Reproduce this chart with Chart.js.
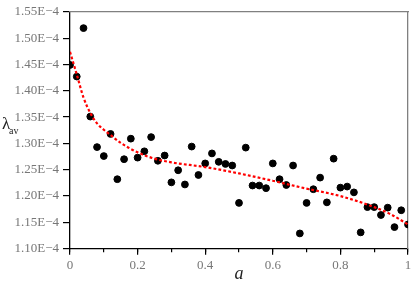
<!DOCTYPE html>
<html>
<head>
<meta charset="utf-8">
<script src="https://cdn.jsdelivr.net/npm/chart.js@4.4.0/dist/chart.umd.min.js"></script>
<style>
  html, body { margin: 0; padding: 0; background: #fff; }
</style>
</head>
<body>
<canvas id="chart" width="415" height="291"></canvas>
<script>
// values in units of 1E-4
const aValues = [0, 0.02, 0.04, 0.06, 0.08, 0.10, 0.12, 0.14, 0.16, 0.18,
  0.20, 0.22, 0.24, 0.26, 0.28, 0.30, 0.32, 0.34, 0.36, 0.38,
  0.40, 0.42, 0.44, 0.46, 0.48, 0.50, 0.52, 0.54, 0.56, 0.58,
  0.60, 0.62, 0.64, 0.66, 0.68, 0.70, 0.72, 0.74, 0.76, 0.78,
  0.80, 0.82, 0.84, 0.86, 0.88, 0.90, 0.92, 0.94, 0.96, 0.98, 1.00];
const lambdaAv = [1.449, 1.427, 1.519, 1.351, 1.293, 1.276, 1.318, 1.232, 1.270, 1.309,
  1.273, 1.285, 1.312, 1.267, 1.277, 1.226, 1.249, 1.222, 1.294, 1.240,
  1.262, 1.281, 1.265, 1.261, 1.258, 1.187, 1.292, 1.220, 1.220, 1.215,
  1.262, 1.232, 1.221, 1.258, 1.129, 1.187, 1.213, 1.235, 1.188, 1.271,
  1.216, 1.218, 1.207, 1.131, 1.179, 1.179, 1.164, 1.178, 1.141, 1.173, 1.146];

// fitted curve
const fitA = [0, 0.02, 0.04, 0.06, 0.08, 0.10, 0.12, 0.15, 0.20, 0.25, 0.30, 0.40, 0.50, 0.60, 0.70, 0.80, 0.90, 0.95, 1.00];
const fitLambda = [1.474, 1.431, 1.387, 1.358, 1.338, 1.326, 1.316, 1.301, 1.283, 1.271, 1.264, 1.255, 1.243, 1.229, 1.214, 1.200, 1.179, 1.165, 1.146];

const yMin = 1.10, yMax = 1.55, yStep = 0.05;
const xMin = 0, xMax = 1, xStep = 0.2, xMinorStep = 0.1;

const serif = "'Liberation Serif', serif";

// axis titles
const titles = {
  id: 'titles',
  afterDraw(chart) {
    const { ctx, scales } = chart;
    ctx.save();
    ctx.fillStyle = '#222';
    ctx.textBaseline = 'middle';
    ctx.textAlign = 'center';
    ctx.font = 'italic 18px ' + serif;
    ctx.fillText('a', (scales.x.left + scales.x.right) / 2, 274);
    ctx.textAlign = 'left';
    ctx.font = '17px ' + serif;
    ctx.fillText('λ', 2, 125);
    ctx.font = '10px ' + serif;
    ctx.fillText('av', 9, 131);
    ctx.restore();
  }
};

// top and right frame lines
const edgeAxis = (position, dir) => ({
  type: 'linear',
  position: position,
  min: dir === 'x' ? xMin : yMin,
  max: dir === 'x' ? xMax : yMax,
  grid: { display: false },
  ticks: { display: false },
  border: { display: true, color: '#808080', width: 1.3 },
  afterFit: s => { if (dir === 'x') s.height = 0; else s.width = 0; }
});

new Chart(document.getElementById('chart'), {
  type: 'scatter',
  data: {
    datasets: [
      {
        type: 'line',
        data: fitA.map((x, i) => ({ x: x, y: fitLambda[i] })),
        borderColor: '#ff0000',
        borderWidth: 2.2,
        borderDash: [2.8, 2.2],
        pointRadius: 0,
        fill: false,
        cubicInterpolationMode: 'monotone',
        order: 0
      },
      {
        data: aValues.map((x, i) => ({ x: x, y: lambdaAv[i] })),
        backgroundColor: '#000',
        borderColor: '#000',
        pointRadius: 3.4,
        order: 1
      }
    ]
  },
  options: {
    responsive: false,
    animation: false,
    layout: { padding: { top: 0, right: 7, left: 0, bottom: 0 } },
    plugins: { legend: { display: false }, tooltip: { enabled: false } },
    scales: {
      xMinor: {
        type: 'linear',
        position: 'bottom',
        weight: -1,
        min: xMin, max: xMax,
        grid: { display: true, drawOnChartArea: false, drawTicks: true, tickLength: 3.5, color: '#000', lineWidth: 1.2 },
        ticks: { display: false, stepSize: xMinorStep },
        border: { display: false },
        afterFit: s => { s.height = 0; }
      },
      x: {
        type: 'linear',
        position: 'bottom',
        min: xMin, max: xMax,
        grid: { display: true, drawOnChartArea: false, drawTicks: true, tickLength: 6, color: '#000', lineWidth: 1.2 },
        border: { display: true, color: '#000', width: 1.3 },
        afterFit: s => { s.height = 42.3; },
        ticks: {
          stepSize: xStep,
          color: '#777',
          padding: 3,
          maxRotation: 0,
          font: { family: serif, size: 13 },
          callback: v => String(Math.round(v * 10) / 10)
        }
      },
      y: {
        min: yMin, max: yMax,
        grid: { display: true, drawOnChartArea: false, drawTicks: true, tickLength: 7, color: '#000', lineWidth: 1.2 },
        border: { display: true, color: '#000', width: 1.3 },
        afterFit: s => { s.width = 70; },
        ticks: {
          stepSize: yStep,
          color: '#777',
          padding: 4,
          font: { family: serif, size: 13 },
          callback: v => v.toFixed(2) + 'E\u22124'
        }
      },
      xTop: edgeAxis('top', 'x'),
      yRight: edgeAxis('right', 'y')
    }
  },
  plugins: [titles]
});
</script>
</body>
</html>
